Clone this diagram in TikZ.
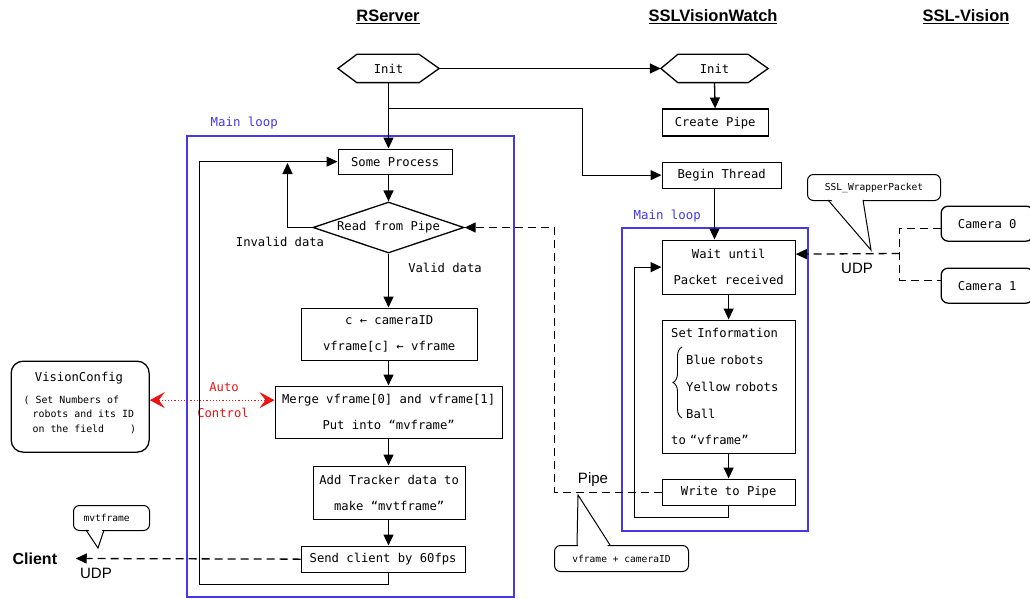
\documentclass[tikz,border=0pt]{standalone}
\usepackage{fontspec}
\setmainfont{DejaVu Sans Mono}
\newfontfamily\sansf{Liberation Sans}
\usetikzlibrary{arrows.meta,shapes.geometric,decorations.pathreplacing}
\definecolor{loopblue}{RGB}{70,55,235}
\definecolor{autored}{RGB}{235,20,20}
\begin{document}
\begin{tikzpicture}[x=1pt,y=-1pt,line width=1.3pt,
  box/.style={draw, inner sep=0pt, anchor=north west, align=center, font=\fontsize{12.2}{26}\selectfont},
  rbox/.style={box, rounded corners=7pt},
  callout/.style={box, line width=1pt, rounded corners=6pt, font=\fontsize{9.6}{12}\selectfont},
  arr/.style={-{Triangle[length=11pt,width=10pt]}},
  dashl/.style={dash pattern=on 8pt off 5pt},
  lbl/.style={font=\fontsize{12.2}{14}\selectfont, inner sep=0pt},
  smalllbl/.style={font=\fontsize{9.9}{12}\selectfont, inner sep=0pt, anchor=west},
  sanslbl/.style={font=\sansf\fontsize{15}{17}\selectfont, inner sep=0pt},
  titlelbl/.style={font=\sansf\bfseries\fontsize{16.5}{18}\selectfont, inner sep=0pt},
  loopbox/.style={draw=loopblue, line width=1.5pt, inner sep=0pt, anchor=north west},
  looplbl/.style={text=loopblue, font=\fontsize{12.4}{14}\selectfont, inner sep=0pt, anchor=west},
  hexnode/.style={font=\fontsize{12.2}{14}\selectfont, inner sep=0pt, minimum height=27pt},
]
\useasboundingbox (0,0) rectangle (1030,599);
\clip (0,0) rectangle (1030,599);
\fill[white] (0,0) rectangle (1030,599);

% titles
\node[titlelbl] (t1) at (388,17) {\underline{RServer}};
\node[titlelbl] (t2) at (713,17) {\underline{SSLVisionWatch}};
\node[titlelbl] (t3) at (966,17) {\underline{SSL-Vision}};

% main loop frames
\node[loopbox, minimum width=327pt, minimum height=461pt] (ml1) at (186,135) {};
\node[looplbl] (ml1l) at (210,123) {Main loop};
\node[loopbox, minimum width=186pt, minimum height=303pt] (ml2) at (621,227) {};
\node[looplbl] (ml2l) at (633,216) {Main loop};

% RServer column
\node[hexnode, minimum width=100pt] (init1) at (388.5,68.5) {Init};
\draw ([xshift=19pt]init1.north west) -- ([xshift=-20pt]init1.north east) -- (init1.east)
  -- ([xshift=-20pt]init1.south east) -- ([xshift=19pt]init1.south west) -- (init1.west) -- cycle;
\node[box, minimum width=114pt, minimum height=25pt] (sp) at (337.5,148.5) {Some Process};
\node[diamond, draw, aspect=3, inner sep=0pt, minimum width=151pt, minimum height=51pt,
  font=\fontsize{12.2}{14}\selectfont] (dia) at (388.5,227.5) {Read from Pipe};
\node[lbl] (invl) at (280,242) {Invalid data};
\node[lbl] (vall) at (445,268) {Valid data};
\node[box, minimum width=176pt, minimum height=52pt] (cb) at (300.5,307.5) {c ← cameraID\\vframe[c] ← vframe};
\node[box, minimum width=227pt, minimum height=52pt] (merge) at (274.5,385.5) {Merge vframe[0] and vframe[1]\\Put into “mvframe”};
\node[box, minimum width=152pt, minimum height=53pt] (add) at (312.5,465.5) {Add Tracker data to\\make “mvtframe”};
\node[box, minimum width=164pt, minimum height=26pt] (send) at (300.5,545.5) {Send client by 60fps};

% SSLVisionWatch column
\node[hexnode, minimum width=106pt] (init2) at (714.5,68.5) {Init};
\draw ([xshift=17pt]init2.north west) -- ([xshift=-20pt]init2.north east) -- (init2.east)
  -- ([xshift=-20pt]init2.south east) -- ([xshift=17pt]init2.south west) -- (init2.west) -- cycle;
\node[box, minimum width=106pt, minimum height=27pt] (cp) at (661.5,108.5) {Create Pipe};
\node[box, minimum width=119pt, minimum height=26pt] (bt) at (661.5,161.5) {Begin Thread};
\node[box, minimum width=133pt, minimum height=54pt] (wait) at (661.5,239.5) {Wait until\\Packet received};
\node[box, minimum width=133pt, minimum height=133pt, align=left, inner xsep=9pt, text width=115pt,
  font=\fontsize{12.2}{26.8}\selectfont] (si) at (661.5,319.5)
  {Set Information\\\hspace*{15pt}Blue robots\\\hspace*{15pt}Yellow robots\\\hspace*{15pt}Ball\\to “vframe”};
\draw[line width=0.9pt, decorate, decoration={brace, amplitude=9pt, aspect=0.5}] (682,418) -- (682,347);
\node[box, minimum width=133pt, minimum height=26pt] (write) at (661.5,478.5) {Write to Pipe};

% SSL-Vision column
\node[rbox, minimum width=92pt, minimum height=35pt] (cam0) at (940.5,205.5) {Camera 0};
\node[rbox, minimum width=92pt, minimum height=35pt] (cam1) at (940.5,267.5) {Camera 1};

% callouts
\node[callout, minimum width=133pt, minimum height=26pt] (wp) at (807,174) {SSL\_WrapperPacket};
\fill[white] (829.5,197.5) -- (862.5,197.5) -- (870.5,249) -- cycle;
\draw[line width=1pt] (828,200) -- (871,250) -- (863,200);
\node[callout, minimum width=134pt, minimum height=26pt] (vc2) at (554,545) {vframe + cameraID};
\fill[white] (578,548) -- (609,548) -- (578.5,496) -- cycle;
\draw[line width=1pt] (577,545) -- (578,495) -- (610,545);
\node[callout, minimum width=76pt, minimum height=25pt, align=left, inner xsep=10pt, text width=56pt] (mvt) at (73,505) {mvtframe};
\fill[white] (87,527) -- (103,527) -- (98,547) -- cycle;
\draw[line width=1pt] (86,530) -- (98,548) -- (104,530);

% VisionConfig
\node[rbox, rounded corners=12pt, minimum width=138pt, minimum height=91pt] (vc) at (10.5,360.5) {};
\node[lbl] (vct) at (79,378) {VisionConfig};
\node[smalllbl] (vct2) at (23,400) {( Set Numbers of};
\node[smalllbl] (vct3) at (32,414) {robots and its ID};
\node[smalllbl] (vct4) at (32,429) {on the field\hspace*{26pt})};

% left labels
\node[font=\sansf\bfseries\fontsize{16}{18}\selectfont, inner sep=0pt, anchor=west] (client) at (12,558.5) {Client};
\node[sanslbl] (udp2) at (96,573) {UDP};
\node[sanslbl] (udp1) at (857,268) {UDP};
\node[sanslbl] (pipel) at (593,480) {Pipe};
\node[lbl, text=autored] (auto) at (224,387) {Auto};
\node[lbl, text=autored] (ctrl) at (223,413) {Control};

% coordinates
\coordinate (br) at (388.5,108.5);
\coordinate (bk) at (582.5,108.5);
\coordinate (invtop) at (287.5,163);
\coordinate (lb) at (199.5,584.5);
\coordinate (lr) at (634.5,517.5);
\coordinate (pb) at (554.5,227.5);
\coordinate (jn) at (899.5,253.5);

% solid connectors
\draw[arr] (init1.east) -- (init2.west);
\draw[arr] (br) -- (bk) |- (bt.west);
\draw[arr] (init1.south) -- (init1.south |- sp.north);
\draw[arr] (dia.north |- sp.south) -- (dia.north);
\draw[arr] (dia.west) -| (invtop);
\draw[arr] (dia.south) -- (dia.south |- cb.north);
\draw[arr] (dia.south |- cb.south) -- (dia.south |- merge.north);
\draw[arr] (dia.south |- merge.south) -- (dia.south |- add.north);
\draw[arr] (dia.south |- add.south) -- (dia.south |- send.north);
\draw[arr] (dia.south |- send.south) |- (lb) |- (sp.west);
\draw[arr] (init2.south) -- (cp.north);
\draw[arr] (init2.south |- bt.south) -- (init2.south |- wait.north);
\draw[arr] (wait.south) -- (si.north);
\draw[arr] (si.south) -- (write.north);
\draw[arr] (write.south) |- (lr) |- (wait.west);

% dashed connectors
\draw[dashl, arr] (write.west) -| (pb) -- (dia.east);
\draw[dashl] ([yshift=-4.5pt]cam0.west) -| (jn) |- ([yshift=5.5pt]cam1.west);
\draw[dashl, arr] (jn) -- ([yshift=13pt]wait.east);
\draw[dashl, arr] (send.west) -- ([xshift=18pt]client.east);

% red dotted double arrow
\draw[autored, line width=1.2pt, dotted,
  {Stealth[length=15pt,width=16pt,inset=6pt]}-{Stealth[length=15pt,width=16pt,inset=6pt]}]
  ([yshift=6.5pt]vc.east) -- ([yshift=12pt]merge.west);
\end{tikzpicture}
\end{document}
